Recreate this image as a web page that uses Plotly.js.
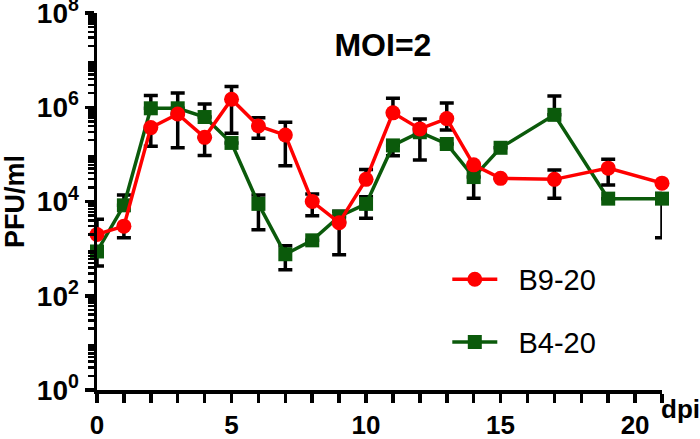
<!DOCTYPE html>
<html>
<head>
<meta charset="utf-8">
<script src="https://cdn.plot.ly/plotly-3.0.1.min.js"></script>
<style>html,body{margin:0;padding:0;background:#fff;}#chart{width:700px;height:439px;}</style>
</head>
<body>
<div id="chart"></div>
<script>
// Days post infection
const days = [0,1,2,3,4,5,6,7,8,9,10,11,12,13,14,15,17,19,21];

// B9-20 (red) PFU/ml and error-bar caps (absolute values; null = no visible bar)
const b9Values = [2000,3000,370000,720000,230000,1480000,400000,257000,10000,3550,29500,760000,347000,575000,60000,31000,29500,51000,24500];
const b9Upper  = [4200,null,null,null,null,2750000,600000,480000,14500,null,48000,1550000,560000,1230000,null,null,46800,79000,null];
const b9Lower  = [null,1700,148000,138000,95000,280000,220000,57500,5000,740,null,null,null,330000,null,null,11700,22400,null];

// B4-20 (green) PFU/ml and error-bar caps
const b4Values = [870,8300,950000,950000,620000,175000,8900,760,1500,4800,8900,155000,295000,166000,33000,138000,690000,11500,11500];
const b4Upper  = [null,13800,1780000,2000000,1170000,null,13800,1150,null,6200,12600,null,null,null,null,null,1740000,null,14800];
const b4Lower  = [430,null,null,null,null,null,2500,355,null,null,4400,93000,76000,null,11700,null,null,null,1700];

const seriesNames = ["B9-20","B4-20"];
const yTickVals = [1,100,10000,1000000,100000000];
const yTickText = ["10<sup>0</sup>","10<sup>2</sup>","10<sup>4</sup>","10<sup>6</sup>","10<sup>8</sup>"];
const xTickVals = [0,5,10,15,20];
const xTickText = ["0","5","10","15","20"];

function plus(vals, caps){ return vals.map((v,i)=> caps[i]==null ? 0 : caps[i]-v); }
function minus(vals, caps){ return vals.map((v,i)=> caps[i]==null ? 0 : v-caps[i]); }

const yMinor = [];
for (let e=0; e<8; e++) for (let k=2; k<=9; k++) yMinor.push(k*Math.pow(10,e));

const greenTrace = {
  x: days, y: b4Values, name: '&nbsp;&nbsp;' + seriesNames[1], type: 'scatter', mode: 'lines+markers',
  line: {color: '#0b5a0b', width: 3.5},
  marker: {symbol: 'square', size: 14, color: '#0b5a0b'},
  error_y: {type: 'data', symmetric: false, array: plus(b4Values,b4Upper), arrayminus: minus(b4Values,b4Lower),
            color: '#000', thickness: 3.5, width: 7},
  cliponaxis: false, legendrank: 2, legendgroup: 'g'
};
const redTrace = {
  x: days, y: b9Values, name: '&nbsp;&nbsp;' + seriesNames[0], type: 'scatter', mode: 'lines+markers',
  line: {color: '#ff0000', width: 3.5},
  marker: {symbol: 'circle', size: 15, color: '#ff0000'},
  error_y: {type: 'data', symmetric: false, array: plus(b9Values,b9Upper), arrayminus: minus(b9Values,b9Lower),
            color: '#000', thickness: 3.5, width: 7},
  cliponaxis: false, legendrank: 1, legendgroup: 'r'
};

const layout = {
  width: 700, height: 439,
  margin: {l: 97, r: 38, t: 13, b: 49},
  paper_bgcolor: '#fff', plot_bgcolor: '#fff',
  font: {family: 'Liberation Sans, Arial, sans-serif', color: '#000'},
  title: {text: '<b>MOI=2</b>', font: {size: 32, color: '#000'}, x: 0.547, xref: 'container', xanchor: 'center', y: 0.897, yref: 'container', yanchor: 'middle'},
  showlegend: true,
  legend: {x: 0.62, xanchor: 'left', y: 0.21, yanchor: 'middle', font: {size: 29, color: '#000'},
           itemwidth: 45, tracegroupgap: 22, bgcolor: 'rgba(0,0,0,0)'},
  xaxis: {
    range: [0, 21], showgrid: false, zeroline: false,
    showline: true, linecolor: '#000', linewidth: 3.5,
    ticks: 'outside', ticklen: 9, tickwidth: 3.5, tickcolor: '#000',
    tickmode: 'array', tickvals: xTickVals, ticktext: xTickText.map(t=>'<b>'+t+'</b>'),
    tickfont: {size: 26, color: '#000'}, ticklabeloverflow: 'allow',
    minor: {dtick: 1, tick0: 0, ticks: 'outside', ticklen: 9, tickwidth: 3.5, tickcolor: '#000', showgrid: false}
  },
  yaxis: {
    type: 'log', range: [0, 8], showgrid: false, zeroline: false,
    showline: true, linecolor: '#000', linewidth: 3.5,
    ticks: 'outside', ticklen: 9, tickwidth: 3.5, tickcolor: '#000',
    tickmode: 'array', tickvals: yTickVals, ticktext: yTickText.map(t=>'<b>'+t+'</b>'),
    tickfont: {size: 28, color: '#000'}, ticklabeloverflow: 'allow',
    minor: {tickmode: 'array', tickvals: yMinor, ticks: 'outside', ticklen: 6, tickwidth: 2.5, tickcolor: '#000', showgrid: false},
    title: {text: '<b>PFU/ml</b>', font: {size: 27, color: '#000'}, standoff: 6}
  },
  annotations: [
    {text: '<b>dpi</b>', xref: 'paper', yref: 'paper', x: 0.995, y: -0.05, xanchor: 'left', yanchor: 'middle',
     showarrow: false, font: {size: 26, color: '#000'}}
  ]
};

Plotly.newPlot('chart', [greenTrace, redTrace], layout, {displayModeBar: false, staticPlot: true});
</script>
</body>
</html>
